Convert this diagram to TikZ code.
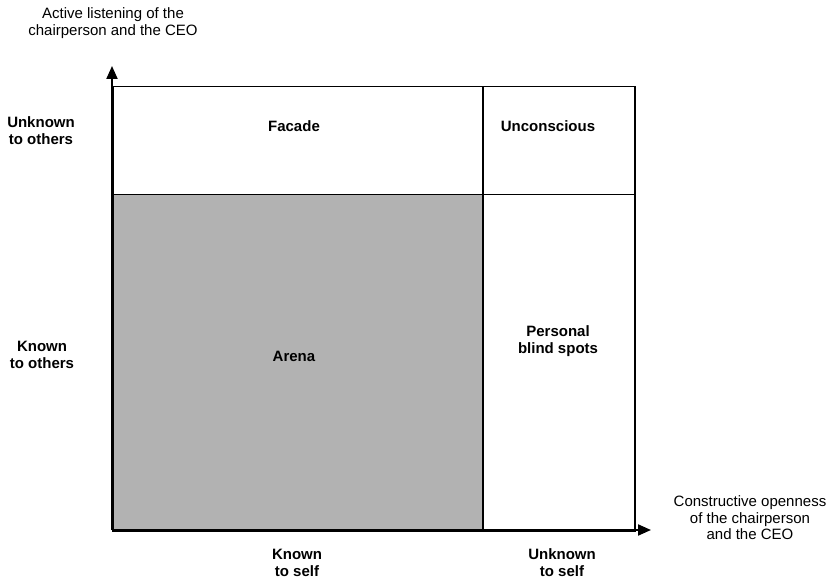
\documentclass[tikz,border=0pt]{standalone}
\usepackage{fontspec}
\setmainfont{Liberation Sans}
\usetikzlibrary{arrows.meta}
\definecolor{arenagray}{RGB}{178,178,178}
\begin{document}
\begin{tikzpicture}[x=1pt,y=-1pt,
  cell/.style={draw=black,line width=1.5pt,inner sep=0pt,anchor=north west},
  lbl/.style={font=\fontsize{15}{17}\selectfont\bfseries,align=center,inner sep=0pt},
  axlbl/.style={font=\fontsize{15}{16.5}\selectfont,align=center,inner sep=0pt},
  axis/.style={line width=2pt,-{Triangle[length=13pt,width=11pt]}}]
\useasboundingbox (0,0) rectangle (831,583);

% the four quadrants
\node[cell,fill=arenagray,minimum width=370pt,minimum height=336pt] (arena) at (112,194) {};
\node[cell,minimum width=370pt,minimum height=108pt] (facade) at (112,86) {};
\node[cell,minimum width=152pt,minimum height=108pt] (unconscious) at (482,86) {};
\node[cell,minimum width=152pt,minimum height=336pt] (blind) at (482,194) {};

% quadrant names
\node[lbl] (tFacade) at (294,126) {Facade};
\node[lbl] (tUnconscious) at (548,126) {Unconscious};
\node[lbl] (tArena) at (294,356) {Arena};
\node[lbl] (tBlind) at (558,341) {Personal\\blind spots};

% axes
\coordinate (origin) at (112,530);
\coordinate (ytip) at (112,66);
\coordinate (xtip) at (651,530);
\draw[axis] (origin) -- (ytip);
\draw[axis] (origin) -- (xtip);

% axis titles
\node[axlbl] (yTitle) at (113,23) {Active listening of the\\chairperson and the CEO};
\node[axlbl] (xTitle) at (750,518) {Constructive openness\\of the chairperson\\and the CEO};

% row and column captions
\node[lbl] (rowTop) at (41,131) {Unknown\\to others};
\node[lbl] (rowBottom) at (42,355) {Known\\to others};
\node[lbl] (colLeft) at (297,563) {Known\\to self};
\node[lbl] (colRight) at (562,563) {Unknown\\to self};
\end{tikzpicture}
\end{document}
